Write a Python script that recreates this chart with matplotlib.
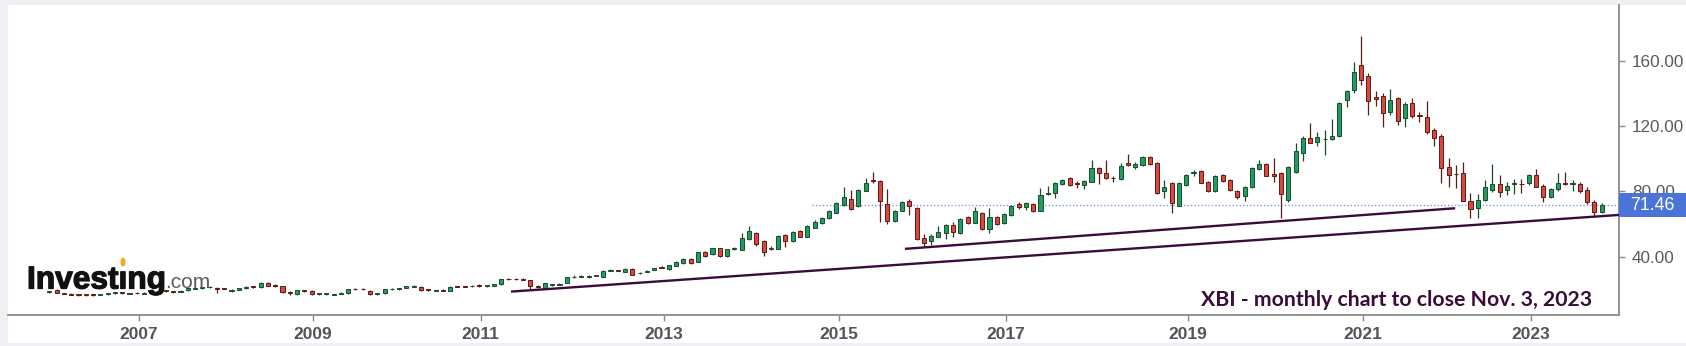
import matplotlib
matplotlib.use("Agg")
import matplotlib.pyplot as plt
from matplotlib.patches import Rectangle, Ellipse
from matplotlib.transforms import blended_transform_factory
import matplotlib.patheffects as pe
import numpy as np
import pandas as pd

plt.rcParams["font.family"] = ["Liberation Sans", "DejaVu Sans"]

# ---- XBI monthly OHLC, Feb 2006 .. Nov 2023 ----
months = pd.date_range("2006-02-01", periods=214, freq="MS")

opens = [
    18.2, 19.5, 17.6, 17.2, 16.9, 16.9, 16.8, 16.8, 17.0, 17.6, 18.2, 17.2,
    17.8, 17.4, 17.9, 18.3, 19.4, 18.8, 18.4, 19.4, 20.3, 20.7, 21.2, 21.0,
    20.6, 19.2, 19.8, 20.5, 21.8, 21.3, 24.1, 22.4, 22.0, 18.3, 17.0, 19.2,
    19.2, 17.0, 17.1, 16.6, 17.2, 17.6, 20.2, 20.2, 19.0, 17.0, 17.6, 19.9,
    20.0, 20.9, 21.6, 21.7, 19.9, 19.0, 19.6, 19.1, 21.8, 21.8, 21.8, 22.8,
    22.0, 22.3, 23.1, 26.4, 26.3, 26.4, 25.7, 22.0, 20.6, 22.6, 22.9, 24.1,
    27.4, 27.7, 27.7, 28.2, 27.8, 31.4, 31.6, 30.7, 32.7, 29.9, 30.6, 31.9,
    33.7, 32.4, 34.3, 36.0, 38.6, 37.0, 42.6, 41.5, 45.2, 40.5, 44.9, 44.4,
    50.7, 54.8, 49.8, 45.0, 44.9, 53.2, 49.7, 55.8, 52.3, 57.8, 60.5, 63.6,
    67.0, 71.7, 75.2, 71.1, 80.5, 86.8, 86.3, 72.3, 61.9, 68.1, 74.4, 70.1,
    51.3, 49.7, 52.3, 54.4, 59.5, 54.4, 64.2, 60.9, 66.6, 57.0, 64.2, 60.5,
    65.6, 72.3, 70.3, 72.3, 68.2, 78.5, 79.3, 84.6, 88.1, 85.3, 84.0, 86.0,
    94.6, 91.2, 88.4, 87.5, 97.7, 94.9, 96.3, 101.3, 97.3, 80.5, 85.4, 71.3,
    84.0, 91.3, 92.8, 86.0, 80.3, 90.1, 87.1, 80.5, 77.3, 82.6, 93.8, 96.7,
    90.7, 91.2, 74.8, 92.1, 103.4, 113.0, 110.5, 111.9, 112.2, 114.0, 136.1, 142.3,
    157.6, 150.8, 137.6, 138.7, 128.9, 137.1, 124.9, 134.1, 126.8, 125.9, 117.7, 114.0,
    95.2, 90.8, 91.5, 74.2, 69.7, 74.8, 80.9, 84.4, 80.9, 84.6, 84.8, 85.0,
    90.1, 83.6, 76.8, 81.5, 85.2, 84.8, 84.6, 80.9, 73.8, 67.6,
]
highs = [
    19.0, 19.9, 17.9, 17.5, 17.2, 17.3, 17.1, 17.3, 18.0, 18.6, 18.5, 17.9,
    18.1, 18.2, 18.6, 19.1, 19.8, 19.1, 19.5, 20.9, 21.0, 21.7, 22.2, 21.4,
    21.0, 20.2, 20.9, 21.9, 22.2, 24.4, 24.6, 23.2, 22.2, 19.0, 19.8, 19.6,
    19.4, 17.9, 17.8, 17.1, 18.3, 20.3, 20.6, 20.5, 19.3, 17.9, 20.2, 20.5,
    20.8, 22.3, 22.5, 22.0, 20.1, 19.8, 19.9, 21.9, 22.1, 22.1, 22.6, 23.2,
    22.5, 23.5, 26.5, 26.8, 26.8, 26.7, 26.0, 22.5, 24.0, 23.4, 23.6, 27.7,
    28.6, 28.5, 28.7, 29.0, 31.6, 32.3, 32.0, 33.2, 33.0, 30.6, 31.9, 33.0,
    34.0, 35.1, 37.3, 38.9, 39.0, 43.1, 43.2, 45.6, 45.6, 45.0, 46.0, 54.8,
    58.9, 55.2, 50.2, 46.6, 53.3, 53.6, 55.8, 56.4, 59.3, 62.3, 64.5, 68.6,
    73.3, 83.0, 81.0, 81.5, 88.3, 92.2, 87.0, 81.4, 68.6, 74.3, 75.2, 70.6,
    53.6, 53.6, 59.0, 59.9, 61.5, 63.6, 65.0, 70.7, 67.1, 69.7, 64.8, 66.7,
    71.6, 73.3, 73.5, 73.0, 82.0, 83.4, 85.9, 87.6, 88.7, 86.6, 87.3, 99.3,
    95.2, 99.3, 89.3, 97.7, 103.0, 97.8, 101.8, 101.9, 97.9, 87.1, 86.0, 85.6,
    90.6, 93.0, 93.4, 86.6, 90.2, 90.6, 87.6, 81.0, 83.1, 95.1, 99.5, 97.3,
    100.4, 91.8, 95.4, 109.6, 114.0, 122.1, 116.7, 117.7, 124.2, 134.9, 141.9, 159.6,
    175.4, 152.8, 141.8, 140.5, 142.6, 138.0, 135.0, 137.1, 128.9, 135.5, 118.8, 115.0,
    100.4, 96.3, 98.3, 79.3, 78.3, 87.1, 96.7, 90.1, 86.0, 87.5, 87.5, 90.7,
    94.0, 84.5, 82.0, 91.2, 92.2, 87.0, 85.5, 83.0, 74.5, 73.2,
]
lows = [
    17.9, 17.6, 16.9, 16.4, 16.2, 16.1, 16.2, 16.6, 16.8, 17.4, 17.3, 17.0,
    17.4, 17.2, 17.7, 18.1, 18.6, 17.9, 18.1, 19.2, 20.0, 20.4, 21.0, 17.6,
    19.9, 18.2, 19.5, 20.2, 21.1, 21.0, 22.0, 21.3, 17.6, 16.6, 16.8, 18.3,
    16.6, 16.5, 16.8, 16.3, 17.0, 17.4, 19.6, 19.4, 16.6, 16.8, 17.4, 19.6,
    19.8, 20.7, 21.3, 18.9, 19.1, 18.8, 18.7, 18.9, 21.4, 21.3, 21.6, 21.6,
    21.7, 22.1, 22.9, 25.8, 25.6, 25.8, 20.0, 21.1, 20.2, 22.2, 22.7, 23.9,
    27.1, 27.4, 26.8, 27.9, 27.6, 31.1, 31.0, 30.4, 28.6, 29.4, 30.4, 31.6,
    32.9, 32.1, 34.0, 35.8, 35.3, 36.6, 39.8, 40.9, 39.8, 40.0, 43.9, 44.0,
    50.2, 46.8, 40.5, 43.9, 44.5, 46.2, 49.2, 51.8, 52.0, 57.4, 60.1, 63.2,
    66.6, 71.3, 68.5, 70.6, 80.1, 85.0, 61.5, 60.3, 61.4, 67.7, 65.6, 50.5,
    45.8, 47.0, 51.8, 50.7, 51.9, 54.0, 60.3, 60.4, 56.6, 54.4, 59.6, 60.0,
    65.2, 69.1, 68.6, 67.6, 67.7, 78.1, 76.0, 84.2, 83.4, 82.0, 81.6, 85.6,
    84.6, 87.6, 85.5, 87.1, 95.8, 93.9, 95.9, 96.4, 78.3, 75.8, 66.6, 70.8,
    83.5, 89.4, 84.9, 79.8, 79.8, 86.0, 80.4, 75.6, 74.0, 82.1, 93.3, 89.2,
    86.0, 63.9, 73.6, 91.6, 98.9, 109.4, 107.9, 102.4, 111.7, 113.6, 131.9, 140.6,
    145.0, 126.9, 132.4, 119.7, 127.0, 121.0, 119.7, 125.0, 122.8, 115.0, 107.9, 85.4,
    83.0, 82.0, 74.0, 63.6, 63.6, 74.0, 79.9, 76.8, 77.9, 78.5, 78.9, 84.0,
    82.5, 73.8, 76.0, 80.5, 84.0, 80.0, 78.9, 72.5, 65.0, 66.9,
]
closes = [
    18.8, 17.9, 17.2, 16.6, 16.5, 16.4, 16.5, 17.0, 17.8, 18.2, 17.6, 17.6,
    17.6, 17.9, 18.3, 18.8, 18.8, 18.2, 19.2, 20.6, 20.7, 21.4, 21.7, 20.3,
    20.2, 19.4, 20.6, 21.6, 21.5, 24.1, 22.3, 22.1, 18.2, 18.0, 19.4, 18.9,
    16.9, 17.5, 17.3, 16.8, 18.0, 20.0, 20.0, 19.9, 16.9, 17.6, 20.0, 20.2,
    20.5, 22.0, 22.1, 19.3, 19.5, 19.4, 19.1, 21.6, 21.6, 21.6, 22.3, 21.9,
    22.2, 23.2, 26.2, 26.1, 26.1, 25.9, 22.1, 21.6, 23.7, 23.0, 23.2, 27.4,
    27.7, 28.1, 27.9, 28.6, 31.3, 32.0, 31.3, 32.7, 28.9, 30.2, 31.1, 32.8,
    33.3, 34.8, 37.0, 38.6, 36.4, 42.6, 40.5, 45.2, 40.2, 44.6, 45.2, 51.3,
    56.0, 47.8, 43.1, 45.5, 52.9, 49.7, 55.4, 52.3, 58.9, 61.5, 63.9, 68.2,
    72.8, 76.5, 69.1, 81.0, 85.4, 86.2, 74.4, 61.9, 68.1, 73.4, 71.1, 51.1,
    48.3, 52.9, 55.0, 59.5, 55.4, 63.2, 60.9, 68.1, 57.0, 64.2, 60.1, 66.2,
    71.1, 70.3, 72.8, 68.2, 77.9, 79.0, 85.4, 87.1, 84.0, 84.8, 86.6, 94.6,
    91.5, 88.1, 88.0, 95.6, 96.3, 96.7, 101.3, 96.9, 79.3, 83.0, 72.8, 85.0,
    90.1, 91.7, 85.4, 80.3, 89.7, 86.5, 80.9, 76.8, 82.6, 94.6, 96.7, 89.7,
    89.5, 78.3, 94.9, 104.8, 113.0, 109.9, 113.2, 112.4, 114.0, 134.5, 141.8, 153.5,
    148.4, 135.7, 136.8, 127.9, 136.1, 123.4, 133.5, 126.5, 126.0, 116.7, 112.6, 94.2,
    90.1, 90.4, 74.2, 69.1, 74.8, 83.0, 84.4, 79.9, 83.6, 85.2, 84.4, 90.1,
    83.0, 76.8, 81.5, 85.4, 84.6, 85.4, 80.5, 73.8, 67.3, 71.46,
]

# support lines (candle index, price)
support_long_x = [63.35, 215.4]
support_long_y = [18.6, 65.6]
support_short_x = [117.4, 192.9]
support_short_y = [44.8, 69.7]

year_labels = ["2007", "2009", "2011", "2013", "2015", "2017", "2019", "2021", "2023"]
price_ticks = [40, 80, 120, 160]

# ---- figure / layout in pixels ----
W, H = 1686, 346
fig = plt.figure(figsize=(W / 100, H / 100), dpi=100, facecolor="#eef0f4")
fig.patches.append(Rectangle((8 / W, 3 / H), 1 - 8 / W, 338 / H,
                             transform=fig.transFigure, facecolor="white",
                             edgecolor="none", zorder=-5))
ax = fig.add_axes([8 / W, 1 - 314.7 / H, (1619.3 - 8) / W, (314.7 - 5) / H])
ax.set_facecolor("white")
ax.set_zorder(1)

o = np.array(opens)
h = np.array(highs)
l = np.array(lows)
c = np.array(closes)
x = np.arange(len(c))
up = c >= o

fill = np.where(up, "#1f9e62", "#d9473d")
edge = np.where(up, "#1d4a2c", "#5a1c16")

ax.vlines(x, l, h, colors=edge, linewidth=0.9, zorder=2)
ax.bar(x, np.maximum(np.abs(c - o), 0.4), bottom=np.minimum(o, c), width=0.56,
       color=fill, edgecolor=edge, linewidth=0.7, zorder=3)

ax.plot(support_long_x, support_long_y, color="#3b0b3b", lw=1.7,
        solid_capstyle="butt", zorder=4)
ax.plot(support_short_x, support_short_y, color="#3b0b3b", lw=1.7,
        solid_capstyle="butt", zorder=4)

# last close marker line
ax.plot([104.6, 215.4], [c[-1], c[-1]], color="#7f9de6", lw=1.0,
        linestyle=(0, (1, 1.5)), zorder=1)

ax.set_xlim(-5.67, 215.42)
ax.set_ylim(4.43, 194.3)

for s in ("top", "left"):
    ax.spines[s].set_visible(False)
for s in ("bottom", "right"):
    ax.spines[s].set_color("#8a8a8a")
    ax.spines[s].set_linewidth(1.3)

ax.yaxis.tick_right()
ax.set_yticks(price_ticks)
ax.set_yticklabels([f"{v:.2f}" for v in price_ticks])
ax.tick_params(axis="y", direction="out", length=4, width=1, colors="#8a8a8a",
               labelcolor="#5a5a5a", labelsize=12.3, pad=5)

ax.set_xticks([12.3, 36.2, 59.2, 84.3, 108.3, 131.3, 156.2, 180.2, 203.3])
ax.set_xticklabels(year_labels)
ax.tick_params(axis="x", direction="out", length=4, width=1, colors="#8a8a8a",
               labelcolor="#555555", labelsize=12.5, pad=5)
for lbl in ax.get_xticklabels():
    lbl.set_fontweight("bold")

# last price tag
tr = blended_transform_factory(ax.transAxes, ax.transData)
ax.add_patch(Rectangle((1.0, c[-1] - 7.2), 0.0414, 14.6, transform=tr,
                       facecolor="#4a74d8", edgecolor="none", clip_on=False,
                       zorder=6))
ax.text(1.0068, c[-1], f"{c[-1]:.2f}", transform=tr, color="white",
        fontsize=12.8, va="center", ha="left", zorder=7, clip_on=False)

# logo
fx = lambda px: px / W
fy = lambda py: 1 - py / H
fig.text(fx(27), fy(288.5), "Investıng", fontsize=22.8, fontweight="bold",
         color="#111111", va="baseline", ha="left", zorder=10,
         path_effects=[pe.withStroke(linewidth=0.9, foreground="#111111")])
fig.text(fx(165), fy(288.5), ".com", fontsize=15, color="#5d5d5d",
         va="baseline", ha="left", zorder=10)
fig.patches.append(Ellipse((fx(123), fy(262)), 5 / W, 9 / H,
                           transform=fig.transFigure, facecolor="#f5a623",
                           edgecolor="none", zorder=11))

# caption
fig.text(fx(1592), fy(306), "XBI - monthly chart to close Nov. 3, 2023",
         fontsize=15.3, fontweight="bold", color="#3a0c3a",
         family=["Lato", "DejaVu Sans"], va="baseline", ha="right", zorder=10)

fig.savefig("out.png", dpi=100, facecolor=fig.get_facecolor())
